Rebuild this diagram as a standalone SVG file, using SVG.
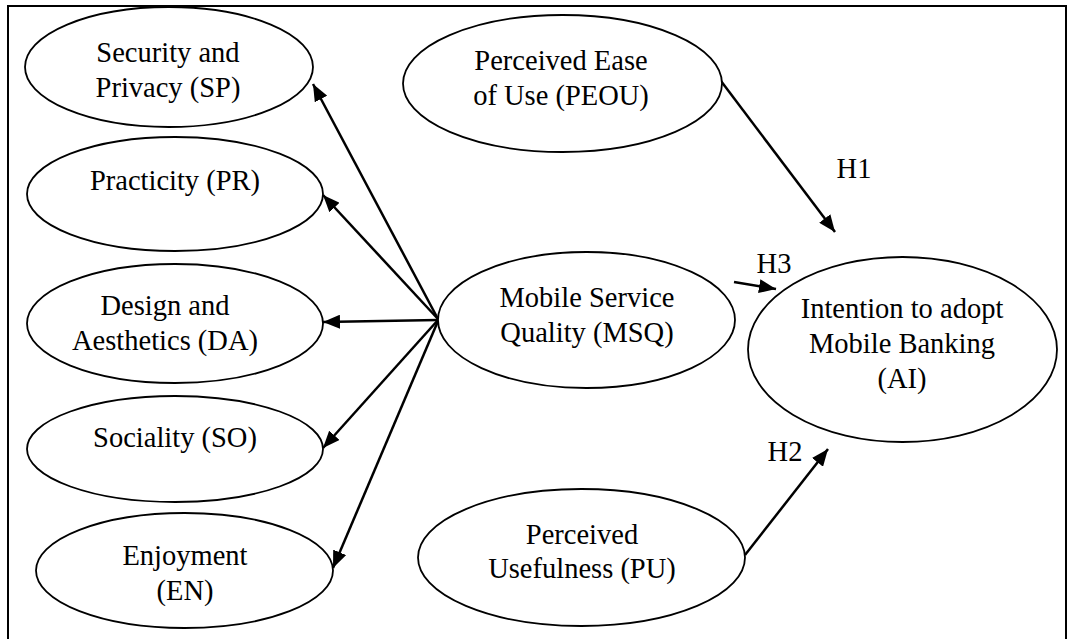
<svg xmlns="http://www.w3.org/2000/svg" width="1069" height="639" viewBox="0 0 1069 639" font-family="'Liberation Serif', 'DejaVu Serif', serif">
<defs>
<style>
.node ellipse{fill:#fff;stroke:#000;stroke-width:1.8}
text{font-family:'Liberation Serif','DejaVu Serif',serif;font-size:28.5px;fill:#000;text-anchor:middle}
.conn path{fill:none;stroke:#000;stroke-width:2.5;marker-end:url(#ah)}
.frame{fill:none;stroke:#000;stroke-width:2}
</style>
<marker id="ah" viewBox="0 0 17 14" refX="17" refY="7" markerWidth="17" markerHeight="14" orient="auto" markerUnits="userSpaceOnUse">
<path d="M0,0 L17,7 L0,14 Z" fill="#000"/>
</marker>
</defs>
<rect width="1069" height="639" fill="#fff"/>
<path class="frame" d="M8,650 L8,6 L1066,6 L1066,650"/>
<g id="connectors" class="conn">
<path d="M438,319 L313,84"/>
<path d="M438,319 L323,195"/>
<path d="M438,320 L323,322"/>
<path d="M438,320 L323,448"/>
<path d="M438,321 L333,568"/>
<path d="M721,81 L835,232"/>
<path d="M734,282 L776,289"/>
<path d="M745,555 L828,449"/>
<text x="854" y="178">H1</text>
<text x="774" y="273">H3</text>
<text x="785" y="461">H2</text>
</g>
<g id="SP" class="node">
<ellipse cx="169" cy="67" rx="144" ry="60"/>
<text x="168" y="62">Security and</text>
<text x="168" y="97">Privacy (SP)</text>
</g>
<g id="PR" class="node">
<ellipse cx="175" cy="194" rx="148" ry="57"/>
<text x="175" y="190">Practicity (PR)</text>
</g>
<g id="DA" class="node">
<ellipse cx="175" cy="323.5" rx="148" ry="59.5"/>
<text x="165" y="315">Design and</text>
<text x="165" y="350">Aesthetics (DA)</text>
</g>
<g id="SO" class="node">
<ellipse cx="175" cy="449" rx="148" ry="53"/>
<text x="175" y="447">Sociality (SO)</text>
</g>
<g id="EN" class="node">
<ellipse cx="184.5" cy="570.5" rx="148.5" ry="57.5"/>
<text x="185" y="565">Enjoyment</text>
<text x="185" y="600">(EN)</text>
</g>
<g id="PEOU" class="node">
<ellipse cx="562.5" cy="83.5" rx="159.5" ry="68.5"/>
<text x="561" y="70">Perceived Ease</text>
<text x="561" y="105">of Use (PEOU)</text>
</g>
<g id="MSQ" class="node">
<ellipse cx="586.5" cy="320" rx="148.5" ry="68"/>
<text x="587" y="307">Mobile Service</text>
<text x="587" y="342">Quality (MSQ)</text>
</g>
<g id="AI" class="node">
<ellipse cx="902.5" cy="349.5" rx="154.5" ry="92.5"/>
<text x="902" y="318">Intention to adopt</text>
<text x="902" y="353">Mobile Banking</text>
<text x="902" y="388">(AI)</text>
</g>
<g id="PU" class="node">
<ellipse cx="581.5" cy="557.5" rx="163.5" ry="68.5"/>
<text x="582" y="544">Perceived</text>
<text x="582" y="578">Usefulness (PU)</text>
</g>
</svg>
